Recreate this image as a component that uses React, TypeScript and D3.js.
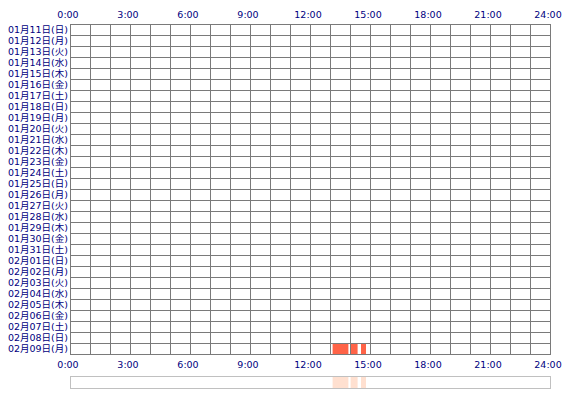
import * as d3 from 'd3';

// rows: month/day, weekday starts on Sunday for 01月11日
const days = [
  '01月11日', '01月12日', '01月13日', '01月14日', '01月15日', '01月16日', '01月17日',
  '01月18日', '01月19日', '01月20日', '01月21日', '01月22日', '01月23日', '01月24日',
  '01月25日', '01月26日', '01月27日', '01月28日', '01月29日', '01月30日', '01月31日',
  '02月01日', '02月02日', '02月03日', '02月04日', '02月05日', '02月06日', '02月07日',
  '02月08日', '02月09日',
];
const weekdays = ['日', '月', '火', '水', '木', '金', '土'];

// active sessions: day, start hour, end hour
const sessionDays = ['02月09日', '02月09日', '02月09日'];
const sessionStart = [13.13, 14.03, 14.55];
const sessionEnd = [13.92, 14.38, 14.8];

const hourTicks = [0, 3, 6, 9, 12, 15, 18, 21, 24];

const width = 570;
const height = 400;
const left = 70;
const right = 550;
const top = 24;
const bottom = 354;

const x = d3.scaleLinear().domain([0, 24]).range([left, right]);
const y = d3.scaleBand().domain(days).range([top, bottom]);

const textColor = '#000080';
const gridColor = '#7a7a7a';
const font = '"DejaVu Sans", "Noto Sans CJK JP", sans-serif';

const App = () => {
  const hours = d3.range(0, 25);
  return (
    <svg width={width} height={height} style={{ position: 'absolute', left: 0, top: 0, background: '#fff' }}>
      {/* row labels */}
      {days.map((d, i) => (
        <text key={d} x={68} y={(y(d) ?? 0) + y.bandwidth() / 2 + 3.5}
          fontSize={9} fontFamily={font} fill={textColor} textAnchor="end"
          textLength={60} lengthAdjust="spacingAndGlyphs">
          {d}({weekdays[i % 7]})
        </text>
      ))}
      {/* sessions */}
      {sessionDays.map((d, i) => (
        <rect key={i} x={x(sessionStart[i])} y={(y(d) ?? 0) + 1}
          width={x(sessionEnd[i]) - x(sessionStart[i])} height={y.bandwidth() - 1}
          fill="#ff6347" />
      ))}
      {/* grid */}
      {hours.map(h => (
        <line key={'v' + h} x1={x(h) + 0.5} x2={x(h) + 0.5} y1={top} y2={bottom + 1}
          stroke={gridColor} strokeWidth={1} />
      ))}
      {[...days.map(d => y(d) ?? 0), bottom].map((v, i) => (
        <line key={'h' + i} x1={left} x2={right + 1} y1={Math.round(v) + 0.5} y2={Math.round(v) + 0.5}
          stroke={gridColor} strokeWidth={1} />
      ))}
      {/* hour labels */}
      {hourTicks.map(h => (
        <g key={'t' + h}>
          <text x={x(h) - 2} y={18} fontSize={9.5} fontFamily={font} fill={textColor} textAnchor="middle">{h}:00</text>
          <text x={x(h) - 2} y={368} fontSize={9.5} fontFamily={font} fill={textColor} textAnchor="middle">{h}:00</text>
        </g>
      ))}
      {/* overview strip */}
      {sessionDays.map((d, i) => (
        <rect key={'o' + i} x={x(sessionStart[i])} y={377}
          width={x(sessionEnd[i]) - x(sessionStart[i])} height={11} fill="#ffe0d0" />
      ))}
      <rect x={left + 0.5} y={376.5} width={right - left} height={12} fill="none" stroke="#c0c0c0" />
    </svg>
  );
};

export default App;
